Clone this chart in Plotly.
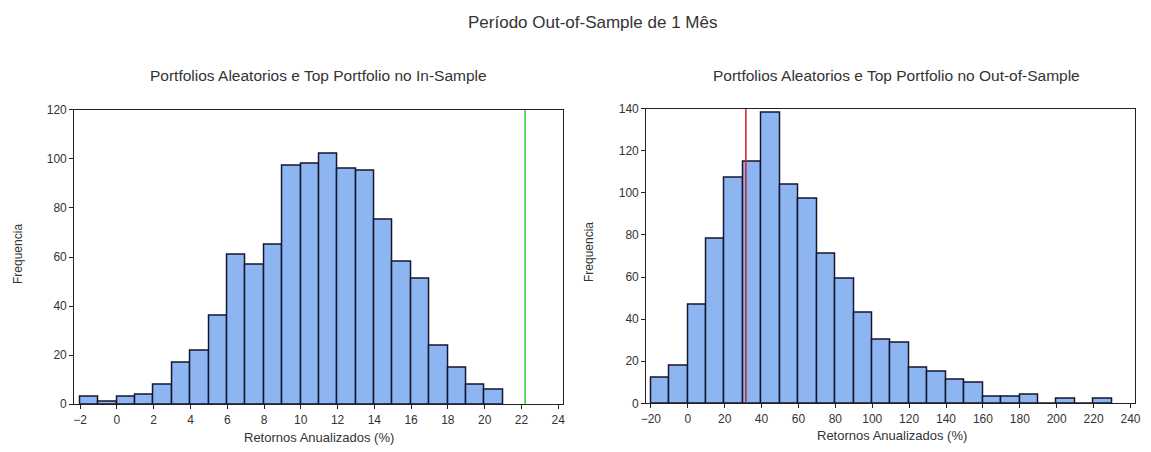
import plotly.graph_objects as go

# In-sample histogram (bins of width 1, starting at -2)
in_bin_starts = list(range(-2, 21))
in_counts = [3, 1, 3, 4, 8, 17, 22, 36, 61, 57, 65, 97, 98, 102, 96, 95, 75, 58, 51, 24, 15, 8, 6]
in_top = 22.2
in_ticks = [-2, 0, 2, 4, 6, 8, 10, 12, 14, 16, 18, 20, 22, 24]

# Out-of-sample histogram (bins of width 10, starting at -20)
out_bin_starts = list(range(-20, 230, 10))
out_counts = [12, 18, 47, 78, 107, 115, 138, 104, 97, 71, 59, 43, 30, 29, 17, 15, 11, 10, 3, 3, 4, 0, 2, 0, 2]
out_top = 31.5
out_ticks = list(range(-20, 241, 20))

W, H = 1151, 452
bar_color = "#8db5f2"
edge_color = "#15152e"
font_family = "Liberation Sans, Arial, sans-serif"
txt = "#333333"

# layout positions (pixels from top-left of the page)
def px(x):
    return x / W

def py(y):
    return 1 - y / H

fig = go.Figure()
fig.add_trace(go.Bar(x=[s + 0.5 for s in in_bin_starts], y=in_counts, width=1,
                     marker=dict(color=bar_color, line=dict(color=edge_color, width=1.5)),
                     xaxis="x", yaxis="y", showlegend=False))
fig.add_trace(go.Bar(x=[s + 5 for s in out_bin_starts], y=out_counts, width=10,
                     marker=dict(color=bar_color, line=dict(color=edge_color, width=1.5)),
                     xaxis="x2", yaxis="y2", showlegend=False))
fig.add_trace(go.Scatter(x=[in_top, in_top], y=[0, 120], mode="lines",
                         line=dict(color="#33cc33", width=1.5), xaxis="x", yaxis="y", showlegend=False))
fig.add_trace(go.Scatter(x=[out_top, out_top], y=[0, 140], mode="lines",
                         line=dict(color="#cc2222", width=1.5), xaxis="x2", yaxis="y2", showlegend=False))

ax_common = dict(showline=True, linecolor="#222222", linewidth=1.2, mirror=True,
                 ticks="outside", ticklen=4, tickcolor="#222222", showgrid=False, zeroline=False,
                 tickfont=dict(family=font_family, size=12, color=txt))

fig.update_layout(
    width=W, height=H, margin=dict(l=0, r=0, t=0, b=0),
    paper_bgcolor="white", plot_bgcolor="white", bargap=0,
    xaxis=dict(domain=[px(69), px(563)], range=[-2.32, 24.27], tickvals=in_ticks, anchor="y", **ax_common),
    yaxis=dict(domain=[py(410), py(106)], range=[0, 120], dtick=20, anchor="x", **ax_common),
    xaxis2=dict(domain=[px(647), px(1141)], range=[-22.5, 242.5], tickvals=out_ticks, anchor="y2", **ax_common),
    yaxis2=dict(domain=[py(409), py(105)], range=[0, 140], dtick=20, anchor="x2", **ax_common),
)

def ann(text, x, y, size, angle=0, yanchor="middle"):
    fig.add_annotation(text=text, x=px(x), y=py(y), xref="paper", yref="paper",
                       showarrow=False, xanchor="center", yanchor=yanchor, textangle=angle,
                       font=dict(family=font_family, size=size, color=txt))

ann("Período Out-of-Sample de 1 Mês", 593, 16, 17)
ann("Portfolios Aleatorios e Top Portfolio no In-Sample", 316, 71, 15.5)
ann("Portfolios Aleatorios e Top Portfolio no Out-of-Sample", 900, 71, 15.5)
ann("Retornos Anualizados (%)", 316, 444, 13)
ann("Retornos Anualizados (%)", 895, 452, 13, yanchor="bottom")
ann("Frequencia", 12, 255, 12, -90)
ann("Frequencia", 589, 253, 12, -90)

fig.write_html("out.html", config={"displayModeBar": False},
               post_script="document.body.style.margin='0';")
